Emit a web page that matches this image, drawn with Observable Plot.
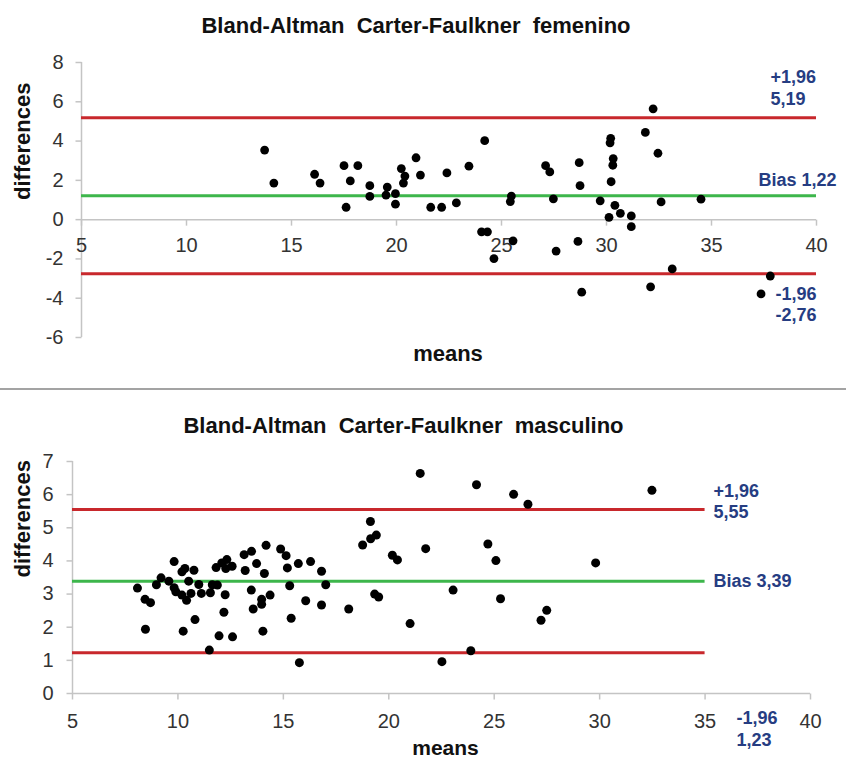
<!DOCTYPE html>
<html><head><meta charset="utf-8">
<script src="https://cdn.jsdelivr.net/npm/d3@7"></script>
<script src="https://cdn.jsdelivr.net/npm/@observablehq/plot@0.6"></script>
<style>
body{margin:0;background:#fff;}
#wrap{position:relative;width:850px;height:760px;overflow:hidden;background:#fff;}
#top{position:absolute;left:0;top:0;}
#bot{position:absolute;left:0;top:390px;}
#sep{position:absolute;left:0;top:388px;width:846px;height:2px;background:#a3a3a3;}
svg{overflow:visible;}
</style></head><body>
<div id="wrap"><div id="top"></div><div id="sep"></div><div id="bot"></div></div>
<script>
// ---------- data: femenino ----------
const femTitle = "Bland-Altman  Carter-Faulkner  femenino";
const femMeans = [13.72,14.16,16.1,16.36,17.5,17.6,17.8,18.16,18.73,18.73,19.56,19.5,19.95,19.95,20.23,20.4,20.33,20.93,21.14,21.63,22.15,22.4,22.85,23.45,24.2,24.05,24.33,24.64,25.47,25.42,25.55,27.1,27.3,27.47,27.6,28.64,28.7,28.74,28.82,29.7,30.12,30.22,30.2,30.17,30.3,30.32,30.4,30.66,31.18,31.18,31.85,32.22,32.1,32.45,32.6,33.13,34.5,37.36,37.8];
const femDiffs = [3.54,1.86,2.31,1.86,2.75,0.63,1.97,2.75,1.73,1.18,1.66,1.25,1.32,0.79,2.6,2.22,1.86,3.15,2.27,0.63,0.63,2.38,0.85,2.72,4.02,-0.62,-0.62,-1.98,1.2,0.92,-1.08,2.75,2.43,1.06,-1.6,-1.11,2.9,1.73,-3.69,0.96,0.12,1.93,4.14,3.91,2.77,3.11,0.73,0.32,0.19,-0.36,4.44,5.64,-3.42,3.38,0.9,-2.51,1.04,-3.78,-2.87];
const femLimits = [5.19, 1.22, -2.76]; // upper, bias, lower
const femXTicks = [5,10,15,20,25,30,35,40];
const femYTicks = [-6,-4,-2,0,2,4,6,8];

// ---------- data: masculino ----------
const mascTitle = "Bland-Altman  Carter-Faulkner  masculino";
const mascMeans = [8.08,8.44,8.7,8.46,8.98,9.2,9.57,9.82,9.82,9.9,10.19,10.33,10.76,10.51,10.19,10.41,10.62,10.99,11.11,10.81,10.25,11.54,11.63,11.87,11.81,12.08,12.32,12.27,12.57,12.24,12.18,11.95,12.59,11.49,13.19,13.14,13.49,13.73,14.1,13.48,13.97,13.97,14.37,13.57,14.03,14.18,14.87,15.13,15.19,15.3,15.37,15.71,15.76,16.29,16.81,17.01,16.06,16.81,18.1,18.76,19.13,19.14,19.41,19.33,19.52,20.17,20.41,21.01,21.49,21.75,23.05,22.52,23.89,24.16,24.7,25.92,26.6,25.08,25.3,27.49,27.22,29.81,32.48];
const mascDiffs = [3.18,2.84,2.74,1.94,3.28,3.49,3.39,3.98,3.19,3.07,3.67,3.77,3.72,3.39,2.97,2.81,3.02,3.29,3.02,2.23,1.88,3.04,3.28,3.27,3.8,3.94,4.04,3.77,3.84,2.98,2.45,1.74,1.71,1.31,3.71,4.19,4.29,3.92,3.62,3.12,2.84,2.69,2.97,2.55,1.88,4.47,4.36,4.16,3.79,3.25,2.27,3.92,0.93,3.98,3.69,3.28,2.8,2.67,2.55,4.48,5.19,4.67,4.78,3.0,2.91,4.17,4.03,2.11,6.64,4.37,3.12,0.96,1.29,6.3,4.51,6.01,5.71,4.01,2.86,2.51,2.21,3.94,6.13];
const mascLimits = [5.55, 3.39, 1.23];
const mascXTicks = [5,10,15,20,25,30,35,40];
const mascYTicks = [0,1,2,3,4,5,6,7];

// ---------- styles ----------
const FONT = "'Liberation Sans', Arial, sans-serif";
const RED = "#c8282c", GREEN = "#3db64b", NAVY = "#263d82", AXIS = "#c4c4c4", TXT = "#333";
const fmt = v => v.toFixed(2).replace(".", ",");
const tickDown = {draw(c){ c.moveTo(0,0); c.lineTo(0,6); }};
const tickLeft = {draw(c){ c.moveTo(0,0); c.lineTo(-6,0); }};

function chart(o) {
  const pts = o.means.map((m, i) => ({m, d: o.diffs[i]}));
  const x0 = o.xTicks[0], x1 = o.xTicks[o.xTicks.length - 1];
  const y0 = o.yTicks[0], y1 = o.yTicks[o.yTicks.length - 1];
  const lab = (t, y, dx, dy) => Plot.text([t], {y: () => y, frameAnchor: "right", textAnchor: "start", dx, dy,
      fill: NAVY, fontWeight: "bold", fontSize: o.labSize});
  return Plot.plot({
    width: 850, height: o.height,
    marginLeft: o.ml, marginRight: o.mr, marginTop: o.mt, marginBottom: o.mb,
    x: {domain: [x0, x1], axis: null},
    y: {domain: [y0, y1], axis: null},
    style: {fontFamily: FONT, background: "transparent", overflow: "visible"},
    marks: [
      Plot.ruleX([x0], {y1: y0, y2: y1, stroke: AXIS, strokeWidth: 1.5}),
      Plot.ruleY([0], {x1: x0, x2: x1, stroke: AXIS, strokeWidth: 1.5}),
      Plot.dot(o.yTicks, {x: () => x0, y: d => d, symbol: tickLeft, stroke: AXIS, strokeWidth: 1.5, fill: "none"}),
      Plot.dot(o.xTicks, {x: d => d, y: () => 0, symbol: tickDown, stroke: AXIS, strokeWidth: 1.5, fill: "none"}),
      Plot.text(o.yTicks, {x: () => x0, y: d => d, text: d => String(d), textAnchor: "end", dx: o.ytDx,
        fontSize: o.tickSize, fill: TXT, fontFamily: o.tickFont}),
      Plot.text(o.xTicks, {x: d => d, y: () => 0, text: d => String(d), dy: o.xtDy,
        fontSize: o.tickSize, fill: TXT, fontFamily: o.tickFont}),
      Plot.ruleY([o.limits[0], o.limits[2]], {x1: x0, x2: o.lineEnd, stroke: RED, strokeWidth: 3}),
      Plot.ruleY([o.limits[1]], {x1: x0, x2: o.lineEnd, stroke: GREEN, strokeWidth: 3}),
      Plot.dot(pts, {x: "m", y: "d", r: o.r, fill: "#000", stroke: "none"}),
      lab("+1,96", o.limits[0], o.L[0][0], o.L[0][1]),
      lab(fmt(o.limits[0]), o.limits[0], o.L[1][0], o.L[1][1]),
      lab("Bias " + fmt(o.limits[1]), o.limits[1], o.L[2][0], o.L[2][1]),
      lab("-1,96", o.limits[2], o.L[3][0], o.L[3][1]),
      lab(fmt(o.limits[2]), o.limits[2], o.L[4][0], o.L[4][1]),
      Plot.text([o.title], {frameAnchor: "top", lineAnchor: "middle", dx: o.tDx, dy: o.tDy, fontSize: o.titleSize, fontWeight: "bold", fill: "#111"}),
      Plot.text(["differences"], {frameAnchor: "left", rotate: -90, dx: o.dDx, fontSize: 22, fontWeight: "bold", fill: "#111"}),
      Plot.text(["means"], {frameAnchor: "bottom", lineAnchor: "middle", dx: o.mDx, dy: o.mDy, fontSize: o.mSize, fontWeight: "bold", fill: "#111"})
    ]
  });
}

document.getElementById("top").append(chart({
  means: femMeans, diffs: femDiffs, limits: femLimits, xTicks: femXTicks, yTicks: femYTicks,
  title: femTitle, height: 385, ml: 81, mr: 34, mt: 62, mb: 48, lineEnd: 40, r: 4.4,
  tickSize: 20, tickFont: FONT, ytDx: -18, xtDy: 26, labSize: 18,
  L: [[-46, -40], [-46, -18], [-58, -15], [-41, 20], [-41, 41]],
  tDx: -33, tDy: -37, titleSize: 22, dDx: -59, mDx: -1, mDy: 16, mSize: 22
}));

document.getElementById("bot").append(chart({
  means: mascMeans, diffs: mascDiffs, limits: mascLimits, xTicks: mascXTicks, yTicks: mascYTicks,
  title: mascTitle, height: 370, ml: 72, mr: 40, mt: 71, mb: 67, lineEnd: 35, r: 4.5,
  tickSize: 20, tickFont: "'Liberation Sans Narrow', 'Liberation Sans', Arial, sans-serif", ytDx: -19, xtDy: 28, labSize: 18,
  L: [[-97, -18], [-97, 3], [-97, 0], [-74, 66], [-74, 88]],
  tDx: -38, tDy: -36, titleSize: 22, dDx: -50, mDx: 4, mDy: 55, mSize: 21
}));
</script>
</body></html>
